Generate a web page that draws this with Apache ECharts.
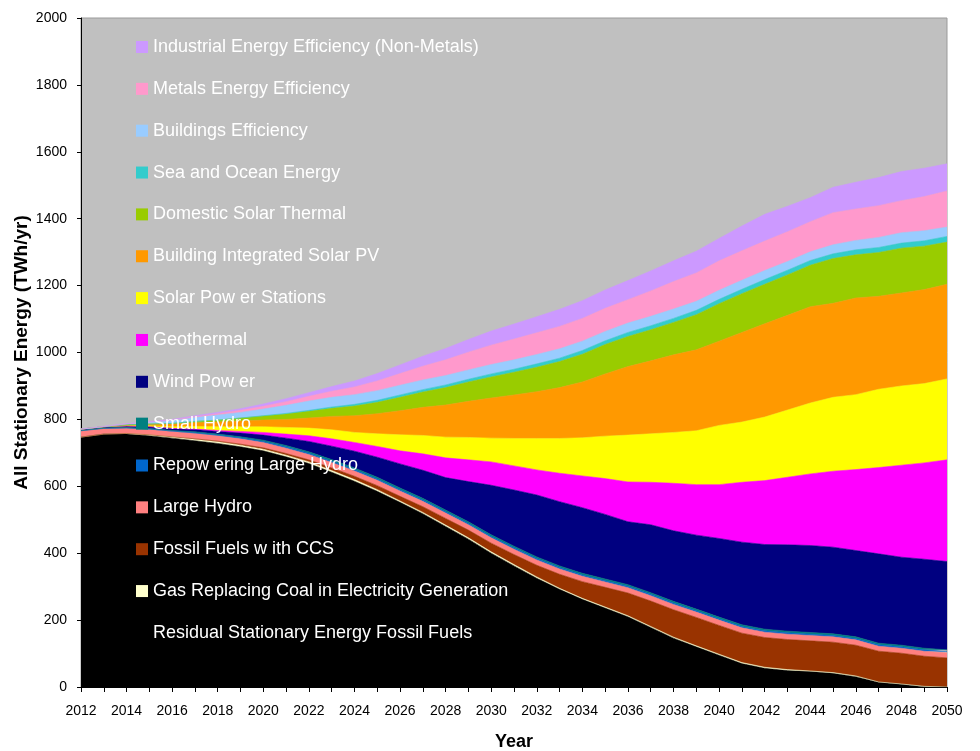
<!DOCTYPE html>
<html>
<head>
<meta charset="utf-8">
<script src="https://cdn.jsdelivr.net/npm/echarts@6/dist/echarts.min.js"></script>
<style>
  html, body { margin: 0; padding: 0; background: #ffffff; }
  #chart { width: 980px; height: 751px; }
</style>
</head>
<body>
<div id="chart"></div>
<script>
// Years on the horizontal axis
const years = [
  2012, 2013, 2014, 2015, 2016, 2017, 2018, 2019, 2020, 2021,
  2022, 2023, 2024, 2025, 2026, 2027, 2028, 2029, 2030, 2031,
  2032, 2033, 2034, 2035, 2036, 2037, 2038, 2039, 2040, 2041,
  2042, 2043, 2044, 2045, 2046, 2047, 2048, 2049, 2050
];

// Stacked layers, bottom to top (TWh/yr)
const residualFossil = [747, 756, 756, 751, 744, 736, 728, 718, 706, 688, 668, 642, 615, 585, 552, 518, 480, 442, 400, 362, 325, 292, 262, 236, 210, 178, 146, 120, 95, 70, 56, 49, 46, 41, 31, 14, 8, 1, 0];
const gasReplacingCoal = [0, 0, 2, 3, 4, 5, 5, 5, 5, 5, 5, 5, 5, 5, 4, 4, 4, 4, 4, 4, 4, 3, 3, 3, 3, 3, 3, 3, 3, 3, 3, 3, 2, 2, 2, 1, 1, 1, 0];
const fossilCCS = [0, 0, 0, 0, 0, 1, 2, 3, 4, 5, 6, 8, 10, 12, 14, 17, 20, 23, 26, 30, 35, 42, 50, 59, 68, 76, 82, 85, 86, 88, 89, 90, 90, 91, 92, 92, 92, 90, 87];
const largeHydro = [19, 17, 16, 16, 16, 16, 16, 16, 16, 16, 16, 16, 16, 16, 16, 16, 16, 16, 16, 16, 16, 16, 16, 16, 16, 16, 16, 16, 16, 16, 16, 16, 16, 16, 16, 15, 15, 15, 15];
const repoweringHydro = [0, 0, 0, 1, 1, 2, 2, 3, 3, 4, 4, 4, 4, 4, 4, 4, 4, 4, 4, 4, 4, 4, 4, 4, 4, 4, 4, 4, 4, 4, 4, 4, 4, 4, 4, 4, 4, 4, 4];
const smallHydro = [1, 1, 2, 2, 2, 3, 3, 3, 4, 4, 4, 5, 5, 5, 5, 5, 5, 5, 5, 5, 5, 5, 5, 5, 5, 5, 5, 5, 5, 5, 5, 5, 5, 5, 5, 5, 5, 5, 5];
const windPower = [4, 4, 4, 5, 6, 7, 8, 11, 15, 22, 31, 40, 50, 60, 72, 84, 97, 120, 148, 168, 185, 192, 196, 193, 188, 203, 211, 221, 235, 247, 253, 258, 260, 259, 258, 267, 263, 266, 264];
const geothermal = [0, 0, 0, 0, 0, 1, 3, 5, 8, 12, 17, 22, 26, 32, 39, 49, 59, 65, 70, 72, 75, 85, 95, 107, 119, 127, 142, 151, 161, 179, 191, 202, 214, 227, 242, 258, 275, 288, 304];
const solarStations = [0, 0, 1, 3, 5, 8, 11, 14, 17, 20, 23, 27, 30, 38, 48, 55, 62, 67, 71, 82, 94, 104, 114, 127, 140, 145, 152, 161, 177, 180, 190, 201, 212, 221, 224, 234, 237, 237, 242];
const buildingPV = [0, 0, 3, 5, 8, 11, 14, 17, 20, 24, 30, 40, 50, 60, 72, 84, 96, 108, 120, 130, 140, 152, 167, 186, 205, 218, 232, 242, 252, 268, 279, 283, 288, 281, 289, 278, 278, 281, 283];
const domesticSolarThermal = [0, 0, 0, 0, 2, 4, 6, 9, 12, 16, 20, 24, 29, 34, 40, 46, 52, 58, 63, 68, 73, 78, 83, 88, 90, 93, 97, 105, 112, 116, 118, 121, 124, 134, 129, 131, 134, 130, 126];
const seaOcean = [0, 0, 0, 0, 0, 0, 0, 0, 1, 2, 3, 4, 5, 6, 7, 7, 8, 8, 9, 9, 10, 10, 11, 11, 12, 12, 12, 13, 13, 13, 14, 14, 14, 14, 15, 15, 15, 16, 17];
const buildingsEfficiency = [0, 1, 3, 6, 9, 12, 15, 17, 20, 24, 28, 29, 29, 29, 29, 29, 28, 28, 28, 28, 28, 28, 28, 28, 28, 28, 28, 27, 27, 27, 27, 26, 26, 27, 28, 30, 31, 30, 28];
const metalsEfficiency = [0, 0, 0, 0, 1, 2, 4, 6, 8, 11, 14, 18, 23, 29, 35, 41, 47, 53, 58, 62, 65, 67, 68, 69, 70, 76, 82, 85, 88, 88, 88, 89, 90, 96, 94, 95, 96, 102, 108];
const industrialEfficiency = [0, 0, 0, 1, 2, 3, 4, 5, 7, 9, 11, 14, 18, 22, 26, 30, 34, 38, 42, 45, 48, 51, 53, 55, 57, 60, 62, 65, 67, 74, 80, 76, 72, 76, 80, 84, 87, 85, 81];

// Layer names and fill colours, bottom to top
const layers = [
  { name: 'Residual Stationary Energy Fossil Fuels', data: residualFossil, color: '#000000' },
  { name: 'Gas Replacing Coal in Electricity Generation', data: gasReplacingCoal, color: '#FFFFCC' },
  { name: 'Fossil Fuels w ith CCS', data: fossilCCS, color: '#993300' },
  { name: 'Large Hydro', data: largeHydro, color: '#FF8080' },
  { name: 'Repow ering Large Hydro', data: repoweringHydro, color: '#0066CC' },
  { name: 'Small Hydro', data: smallHydro, color: '#008080' },
  { name: 'Wind Pow er', data: windPower, color: '#000080' },
  { name: 'Geothermal', data: geothermal, color: '#FF00FF' },
  { name: 'Solar Pow er Stations', data: solarStations, color: '#FFFF00' },
  { name: 'Building Integrated Solar PV', data: buildingPV, color: '#FF9900' },
  { name: 'Domestic Solar Thermal', data: domesticSolarThermal, color: '#99CC00' },
  { name: 'Sea and Ocean Energy', data: seaOcean, color: '#33CCCC' },
  { name: 'Buildings Efficiency', data: buildingsEfficiency, color: '#99CCFF' },
  { name: 'Metals Energy Efficiency', data: metalsEfficiency, color: '#FF99CC' },
  { name: 'Industrial Energy Efficiency (Non-Metals)', data: industrialEfficiency, color: '#CC99FF' }
];

const yTicks = { min: 0, max: 2000, step: 200 };
const fontFamily = '"Liberation Sans", Arial, sans-serif';

const chart = echarts.init(document.getElementById('chart'), null, { renderer: 'canvas' });

chart.setOption({
  animation: false,
  textStyle: { fontFamily: fontFamily },
  grid: {
    left: 81, right: 33, top: 18, bottom: 64,
    outerBoundsMode: 'none',
    containLabel: false,
    show: true,
    backgroundColor: '#C0C0C0',
    borderColor: '#9A9A9A',
    borderWidth: 1
  },
  legend: {
    orient: 'vertical',
    left: 136,
    top: 37,
    padding: 0,
    icon: 'rect',
    itemWidth: 12,
    itemHeight: 12,
    itemGap: 21.85,
    selectedMode: false,
    textStyle: { color: '#ffffff', fontSize: 18, lineHeight: 20, fontFamily: fontFamily },
    data: layers.slice().reverse().map(l => l.name)
  },
  xAxis: {
    type: 'category',
    data: years.map(String),
    boundaryGap: false,
    name: 'Year',
    nameLocation: 'middle',
    nameGap: 46,
    nameMoveOverlap: false,
    nameTextStyle: { fontSize: 18, fontWeight: 'bold', color: '#000', fontFamily: fontFamily },
    axisLine: { lineStyle: { color: '#000', width: 1 } },
    axisTick: { show: true, interval: 0, length: 5, inside: false, lineStyle: { color: '#000' } },
    axisLabel: { interval: 1, margin: 17, fontSize: 14, color: '#000', fontFamily: fontFamily },
    splitLine: { show: false }
  },
  yAxis: {
    type: 'value',
    min: yTicks.min,
    max: yTicks.max,
    interval: yTicks.step,
    name: 'All Stationary Energy (TWh/yr)',
    nameLocation: 'middle',
    nameGap: 50,
    nameRotate: 90,
    nameMoveOverlap: false,
    nameTextStyle: { fontSize: 19, fontWeight: 'bold', color: '#000', fontFamily: fontFamily },
    axisLine: { show: true, lineStyle: { color: '#000', width: 1 } },
    axisTick: { show: true, length: 4, inside: false, lineStyle: { color: '#000' } },
    axisLabel: { margin: 14, fontSize: 14, color: '#000', fontFamily: fontFamily, formatter: v => String(v) },
    splitLine: { show: false }
  },
  series: layers.map(l => ({
    name: l.name,
    type: 'line',
    stack: 'energy',
    data: l.data,
    color: l.color,
    symbol: 'none',
    showSymbol: false,
    smooth: false,
    lineStyle: { width: 0.6, color: l.color },
    areaStyle: { color: l.color, opacity: 1 },
    emphasis: { disabled: true },
    silent: true
  }))
});
</script>
</body>
</html>
